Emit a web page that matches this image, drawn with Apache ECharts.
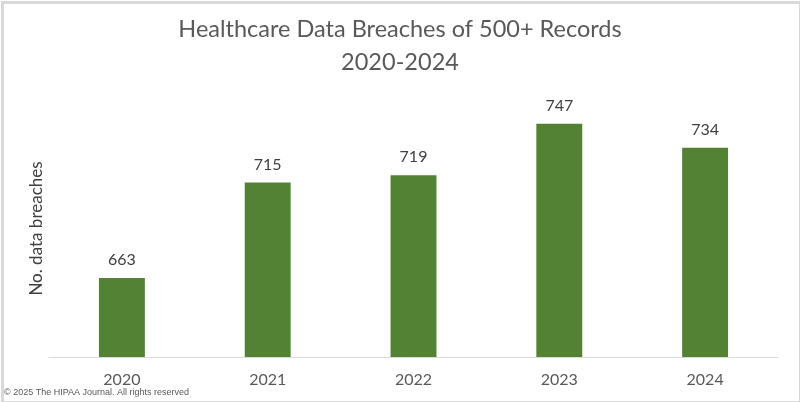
<!DOCTYPE html>
<html><head><meta charset="utf-8">
<script src="https://cdn.jsdelivr.net/npm/echarts@6/dist/echarts.min.js"></script>
<style>html,body{margin:0;padding:0;background:#fff}#c{width:800px;height:402px}</style>
</head><body><div id="c"></div>
<script>
const years = ['2020', '2021', '2022', '2023', '2024'];
const breaches = [663, 715, 719, 747, 734];
const titleText = 'Healthcare Data Breaches of 500+ Records\n2020-2024';
const yName = 'No. data breaches';
const credit = '\u00a9 2025 The HIPAA Journal. All rights reserved';

const chart = echarts.init(document.getElementById('c'));
chart.setOption({
  backgroundColor: '#fff',
  animation: false,
  title: {
    text: titleText, left: 'center', top: 8,
    textStyle: { fontFamily: 'Lato', fontSize: 23.5, fontWeight: 'normal', color: '#595959', lineHeight: 33 }
  },
  grid: { left: 49, right: 22, top: 100, bottom: 45 },
  xAxis: {
    type: 'category', data: years,
    axisLine: { lineStyle: { color: '#d9d9d9', width: 1 } },
    axisTick: { show: false },
    axisLabel: { fontFamily: 'Lato', fontSize: 16, color: '#595959', margin: 15 }
  },
  yAxis: {
    type: 'value', min: 620, max: 760,
    axisLabel: { show: false }, axisLine: { show: false }, axisTick: { show: false },
    splitLine: { show: false },
    name: yName, nameLocation: 'middle', nameGap: 4,
    nameTextStyle: { fontFamily: 'Lato', fontSize: 17, color: '#404040' }
  },
  series: [{
    type: 'bar', data: breaches, barWidth: '31.5%',
    itemStyle: { color: '#548235' },
    label: { show: true, position: 'top', distance: 10, fontFamily: 'Lato', fontSize: 16, color: '#404040' }
  }],
  graphic: [
    { type: 'rect', left: 0, top: 0, shape: { x: 1, y: 1, width: 798, height: 400 },
      style: { fill: 'none', stroke: '#d9d9d9', lineWidth: 3 }, silent: true },
    { type: 'text', left: 4, top: 388,
      style: { text: credit, font: '9px "Liberation Sans", Arial', fill: '#595959' } }
  ]
});
</script></body></html>
